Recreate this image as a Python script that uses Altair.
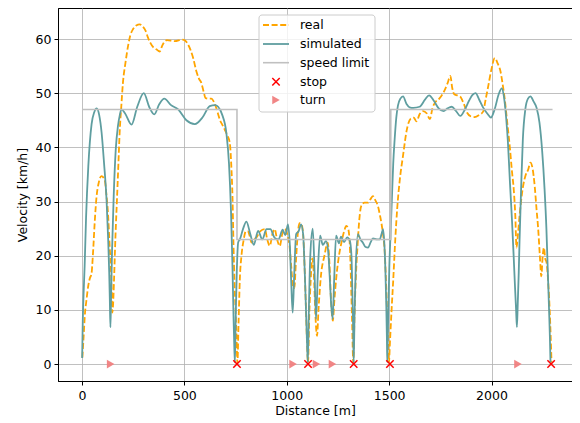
import altair as alt
import pandas as pd

# ---- data ----
sim_d = [1, 4, 8, 13, 20, 31, 47, 60, 72, 84, 96, 108, 120, 128, 133, 136, 139, 142, 147, 155, 165, 176, 185, 193,
         210, 242, 270, 302, 328, 353, 378, 402, 435, 470, 510, 551, 590, 624, 650, 665, 685, 705, 718, 728, 735,
         740, 744, 747, 751, 756, 763, 771, 787, 803, 822, 839, 860, 881, 901, 920, 941, 960, 980, 993, 1006, 1015,
         1022, 1029, 1036, 1046, 1058, 1070, 1080, 1088, 1094, 1099, 1103, 1108, 1115, 1127, 1135, 1143, 1152, 1163,
         1176, 1192, 1202, 1210, 1217, 1224, 1232, 1241, 1255, 1265, 1280, 1295, 1308, 1316, 1320, 1324, 1327, 1331,
         1337, 1348, 1360, 1372, 1385, 1397, 1410, 1421, 1440, 1454, 1463, 1470, 1477, 1482, 1486, 1489, 1491, 1496,
         1501, 1507, 1513, 1520, 1527, 1535, 1543, 1555, 1568, 1585, 1600, 1618, 1649, 1675, 1695, 1720, 1742, 1766,
         1785, 1806, 1825, 1848, 1870, 1890, 1905, 1922, 1940, 1960, 1980, 1997, 2015, 2035, 2050, 2060, 2072, 2080,
         2090, 2100, 2108, 2115, 2120, 2124, 2128, 2133, 2137, 2145, 2153, 2165, 2178, 2190, 2205, 2220, 2234, 2247,
         2259, 2268, 2275, 2281, 2285, 2288]
sim_v = [1.1, 8, 13, 18, 27, 36.5, 44.3, 46.5, 47.2, 46, 42.7, 37, 30.4, 23, 17, 12, 6.8, 12, 21, 31, 39.6, 44, 46,
         47, 46.3, 44.2, 47.5, 50, 47.5, 46.1, 48, 49, 47.8, 47, 45, 44.3, 45.6, 47.6, 47.8, 47.5, 46, 42.7, 37, 28,
         18, 9, 3, 0.3, 9, 17, 22.5, 23, 25, 26.3, 24, 22, 24.6, 23, 24.9, 24.9, 23.3, 23, 24.8, 23.8, 25.8, 22,
         15, 9.5, 16, 24, 24.5, 25.8, 24, 17, 10, 4, 0.3, 10, 20, 25, 18, 8.3, 17, 23.7,
         22, 22.7, 21, 16, 11, 8.3, 16, 23.7, 22.3, 23.5, 22.5, 23.4, 22.8, 20, 14, 7, 0.3, 9,
         18, 24, 23, 22.4, 21.6, 21.5, 22.5, 23.2, 23, 23, 24, 24.9, 22, 17, 11, 5, 0.3, 10,
         18, 24, 30, 37, 41.5, 45.5, 47.7, 49, 49.4, 48, 47.4, 47.3, 47.5, 48.8, 49.6, 48.5, 47.2, 46.7,
         47.2, 47.5, 46.8, 45.8, 47, 48.6, 49.6, 50, 48.8, 47.3, 46.2, 45.5, 47, 49.8, 50.9, 49.5, 45.2, 41,
         33.5, 26.5, 20, 14, 10, 6.8, 11, 17, 23, 33, 41.5, 47, 49, 49.4, 48.5, 47.3, 44.6, 39.5,
         32.3, 25, 17, 10, 5, 0.3]

real_d = [2, 8, 15, 21, 31, 40, 46, 54, 62, 70, 82, 95, 111, 120, 127, 135, 144, 148, 152, 157, 164, 171, 178, 184,
          192, 200, 212, 225, 237, 249, 265, 282, 297, 311, 322, 334, 348, 363, 380, 392, 405, 415, 453, 490, 505,
          518, 530, 543, 559, 571, 583, 594, 604, 618, 632, 643, 653, 663, 673, 685, 697, 710, 722, 730, 735, 740,
          745, 750, 755, 759, 765, 771, 779, 790, 800, 811, 820, 828, 840, 852, 870, 893, 905, 917, 930, 941, 953,
          966, 978, 990, 1002, 1013, 1022, 1030, 1037, 1045, 1055, 1063, 1072, 1080, 1088, 1094, 1099, 1104, 1110,
          1117, 1125, 1133, 1140, 1148, 1155, 1167, 1184, 1200, 1208, 1216, 1225, 1233, 1242, 1255, 1267, 1280, 1291,
          1300, 1308, 1314, 1319, 1325, 1331, 1338, 1346, 1354, 1364, 1380, 1397, 1410, 1421, 1433, 1445, 1455, 1462,
          1470, 1478, 1486, 1493, 1499, 1504, 1512, 1520, 1530, 1540, 1552, 1568, 1585, 1605, 1620, 1633, 1650, 1666,
          1683, 1699, 1712, 1723, 1745, 1765, 1785, 1799, 1808, 1818, 1846, 1865, 1881, 1900, 1918, 1940, 1959, 1972,
          1984, 2000, 2016, 2030, 2044, 2055, 2065, 2077, 2089, 2100, 2109, 2116, 2122, 2128, 2138, 2154, 2166, 2179,
          2190, 2200, 2211, 2220, 2227, 2236, 2243, 2250, 2256, 2262, 2269, 2277, 2284, 2289, 2293]
real_v = [1.2, 5, 9.5, 11.5, 14.5, 16, 16.5, 20.5, 26, 30.4, 33.5, 34.7, 34, 31, 27.9, 22, 15, 9.5, 11, 16, 24, 30.4,
          37, 42.7, 47.5, 51.9, 55.5, 58.7, 60.8, 61.8, 62.5, 62.7, 62.3, 61.5, 60.3, 59.3, 58.5, 58.1, 57.7, 58.8,
          59.6, 59.8, 59.6, 59.9, 59.7, 59, 58, 56.5, 54, 52.7, 51.9, 50.3, 49.1, 49, 49, 48.5, 47.6, 46.4, 45.1,
          44.2, 43.3, 42.2, 40.8, 36, 31, 22, 15, 10, 5, 0.2, 8, 15.7, 20, 23, 24.5, 24.5, 23.5, 22.4, 23, 23.4,
          24.5, 24.9, 23, 21.8, 24, 24.9, 23, 21.8, 24, 24.9, 24, 22, 18, 14.5, 14, 19, 24.5, 26, 25.8, 24, 17, 10,
          4, 0.2, 9, 15.5, 19.5, 16, 9, 5.2, 10, 16.3, 20, 22.4, 19, 12, 8, 12, 16, 20, 22.4, 24.5, 25.5, 25, 22,
          15, 8, 0.3, 9, 16.5, 22, 26.5, 29.2, 29.8, 29.8, 30.5, 31, 30.2, 29.2, 27.5, 26.1, 24, 21, 14, 6, 0.3, 4,
          10, 15.5, 23, 29, 34, 38.5, 43, 45.3, 45.5, 44.8, 46.2, 46.7, 46.3, 45.2, 47.3, 48.2, 49, 50.1, 51.8,
          53.2, 51, 49.8, 49.4, 48, 46.4, 45.7, 45.6, 46, 46.6, 49, 51.3, 54.5, 56.5, 55.5, 54, 51.5, 48.8, 44.5,
          40.2, 35.5, 32, 27.5, 21.5, 23.5, 27.8, 32.8, 34.8, 35.9, 37.2, 36.2, 32.8, 28.5, 25.4, 20, 16.2, 20,
          21.5, 19.5, 18.7, 15, 10, 5, 0.3]

limit_d = [0, 757, 757, 1508, 1508, 2298]
limit_v = [47, 47, 23, 23, 47, 47]

stop_d = [757, 1104, 1327, 1504, 2291]
turn_d = [140, 1031, 1145, 1223, 2129]

legend_labels = ["real", "simulated", "speed limit", "stop", "turn"]

# ---- styles ----
ORANGE = "#ffa500"
TEAL = "#5f9ea0"
GRAY = "#c0c0c0"
TURN = "#f08080"
FONT = "DejaVu Sans"
FS = 12.5

xs = alt.Scale(domain=[-117, 2393], nice=False, zero=False)
ys = alt.Scale(domain=[-3.13, 65.73], nice=False, zero=False)

xaxis = alt.Axis(values=[0, 500, 1000, 1500, 2000], format="d", title="Distance [m]", labelFlush=False,
                 labelOverlap=False, tickSize=4, titlePadding=3, labelPadding=4)
yaxis = alt.Axis(values=[0, 10, 20, 30, 40, 50, 60], format="d", title="Velocity [km/h]", labelFlush=False,
                 labelOverlap=False, tickSize=4, titlePadding=6, labelPadding=3)

real_df = pd.DataFrame({"d": real_d, "v": real_v})
sim_df = pd.DataFrame({"d": sim_d, "v": sim_v})
lim_df = pd.DataFrame({"d": limit_d, "v": limit_v, "o": list(range(len(limit_d)))})
stop_df = pd.DataFrame({"d": stop_d, "v": [0] * len(stop_d)})
turn_df = pd.DataFrame({"d": turn_d, "v": [0] * len(turn_d)})

real = alt.Chart(real_df).mark_line(color=ORANGE, strokeWidth=1.8, strokeDash=[6, 2.6],
                                    interpolate="monotone").encode(
    x=alt.X("d:Q", scale=xs, axis=xaxis), y=alt.Y("v:Q", scale=ys, axis=yaxis))
sim = alt.Chart(sim_df).mark_line(color=TEAL, strokeWidth=1.8, interpolate="monotone").encode(
    x=alt.X("d:Q", scale=xs, axis=xaxis), y=alt.Y("v:Q", scale=ys, axis=yaxis))
lim = alt.Chart(lim_df).mark_line(color=GRAY, strokeWidth=1.6).encode(
    x=alt.X("d:Q", scale=xs, axis=xaxis), y=alt.Y("v:Q", scale=ys, axis=yaxis), order="o:Q")

XPATH = "M-1,-1L1,1M-1,1L1,-1"
stops = alt.Chart(stop_df).mark_point(shape=XPATH, filled=False, color="red", strokeWidth=1.5,
                                      size=55, opacity=1).encode(
    x=alt.X("d:Q", scale=xs, axis=xaxis), y=alt.Y("v:Q", scale=ys, axis=yaxis))
turns = alt.Chart(turn_df).mark_point(shape="triangle-right", filled=True, color=TURN, size=75,
                                      opacity=0.95, strokeWidth=0).encode(
    x=alt.X("d:Q", scale=xs, axis=xaxis), y=alt.Y("v:Q", scale=ys, axis=yaxis))

# ---- legend (drawn manually to match the reference layout) ----
one = pd.DataFrame({"a": [0]})
ly = [17, 36, 54.7, 73.7, 92]
lx0, lx1, ltx = 205, 231, 242
legend = [
    alt.Chart(one).mark_rect(fill="white", fillOpacity=0.8, stroke="#cccccc", strokeWidth=1,
                             cornerRadius=3).encode(
        x=alt.value(201), x2=alt.value(317), y=alt.value(7), y2=alt.value(104)),
    alt.Chart(one).mark_rule(color=ORANGE, strokeWidth=1.8, strokeDash=[6, 2.6]).encode(
        x=alt.value(lx0), x2=alt.value(lx1), y=alt.value(ly[0])),
    alt.Chart(one).mark_rule(color=TEAL, strokeWidth=1.8).encode(
        x=alt.value(lx0), x2=alt.value(lx1), y=alt.value(ly[1])),
    alt.Chart(one).mark_rule(color=GRAY, strokeWidth=1.6).encode(
        x=alt.value(lx0), x2=alt.value(lx1), y=alt.value(ly[2])),
    alt.Chart(one).mark_point(shape=XPATH, filled=False, color="red", strokeWidth=1.5, size=55,
                              opacity=1).encode(x=alt.value((lx0 + lx1) / 2), y=alt.value(ly[3])),
    alt.Chart(one).mark_point(shape="triangle-right", filled=True, color=TURN, size=75, opacity=0.95,
                              strokeWidth=0).encode(x=alt.value((lx0 + lx1) / 2), y=alt.value(ly[4])),
]
for lab, yy in zip(legend_labels, ly):
    legend.append(alt.Chart(one).mark_text(align="left", baseline="middle", fontSize=FS, font=FONT,
                                           color="black").encode(
        x=alt.value(ltx), y=alt.value(yy), text=alt.value(lab)))

chart = alt.layer(real, sim, lim, stops, turns, *legend).properties(
    width=514, height=373,
    autosize=alt.AutoSizeParams(type="none"),
    padding={"left": 50, "top": 0, "right": 0, "bottom": 40},
).configure_view(stroke="black", strokeWidth=1).configure_axis(
    labelFont=FONT, titleFont=FONT, labelFontSize=FS, titleFontSize=FS, titleFontWeight="normal",
    labelColor="black", titleColor="black", tickColor="black", domainColor="black", domainWidth=1,
    tickWidth=1, gridColor="#b0b0b0", gridWidth=0.8, grid=True
)

chart.save("out.html", embed_options={"renderer": "svg", "actions": False})
